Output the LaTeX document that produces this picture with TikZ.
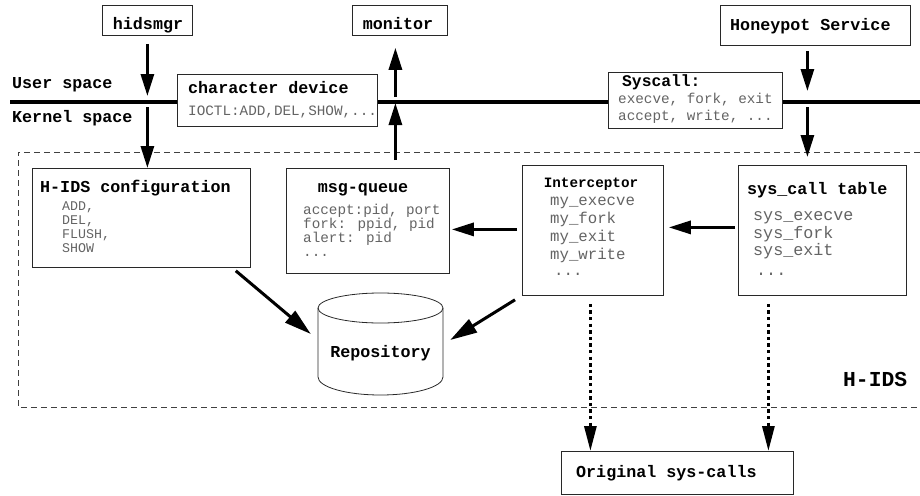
\documentclass[tikz,border=0pt]{standalone}
\usepackage{fontspec}
\usetikzlibrary{arrows.meta,calc}
\newfontfamily\lmono{Liberation Mono}
\definecolor{gtxt}{RGB}{100,100,100}
\definecolor{edge}{RGB}{40,40,40}

\tikzset{
  box/.style={draw=edge, line width=0.8pt, fill=white, inner sep=0pt, anchor=north west},
  ttl/.style={font=\lmono\bfseries\fontsize{16.7}{18}\selectfont, inner sep=0pt, anchor=base west},
  ttlc/.style={ttl, anchor=base},
  itm/.style={font=\lmono\fontsize{14.3}{16}\selectfont, text=gtxt, inner sep=0pt, anchor=base west},
  itmS/.style={itm, font=\lmono\fontsize{13.3}{15}\selectfont},
  itmM/.style={itm, font=\lmono\fontsize{15.7}{17}\selectfont},
  itmL/.style={itm, font=\lmono\fontsize{16.7}{18}\selectfont},
  arr/.style={line width=3pt, -{Triangle[length=22pt,width=13pt]}},
  diagarr/.style={line width=3pt, -{Triangle[length=27pt,width=15pt]}},
  dotarr/.style={line width=3pt, dash pattern=on 3.3pt off 3.3pt, -{Triangle[length=25pt,width=12pt]}},
  sepline/.style={line width=4pt},
  frame/.style={draw=black!75, line width=0.9pt, dash pattern=on 6pt off 4pt},
  cyl/.style={draw=edge, line width=0.8pt}
}

\begin{document}
\begin{tikzpicture}[x=1pt,y=-1pt]
\useasboundingbox (0,0) rectangle (920,495);

% dashed frame of the H-IDS module (open to the right)
\draw[frame] (920,152) -- (18,152) -- (18,407) -- (920,407);

% user/kernel boundary
\coordinate (sepL) at (10,102);
\coordinate (sepR) at (920,102);
\draw[sepline] (sepL) -- (sepR);
\node[ttl] (usr) at (12,88) {User space};
\node[ttl] (krn) at (12,122) {Kernel space};

% user-space processes
\node[box, minimum width=90pt, minimum height=30pt] (hidsmgr) at (102,5) {};
\node[ttlc] (hidsmgr-t) at (148,30) {hidsmgr};
\node[box, minimum width=95pt, minimum height=30pt] (monitor) at (352,5) {};
\node[ttlc] (monitor-t) at (398,30) {monitor};
\node[box, minimum width=190pt, minimum height=40pt] (honey) at (720,5) {};
\node[ttl] (honey-t) at (730,31) {Honeypot Service};

% interfaces on the boundary
\node[box, minimum width=200pt, minimum height=52pt] (chardev) at (177,74) {};
\node[ttl] (chardev-t) at (188,93) {character device};
\node[itm] (chardev-i) at (188,115) {IOCTL:ADD,DEL,SHOW,...};

\node[box, minimum width=174pt, minimum height=56pt] (syscall) at (608,72) {};
\node[ttl, font=\lmono\bfseries\fontsize{16.3}{18}\selectfont] (syscall-t) at (622,86) {Syscall:};
\node[itm] (syscall-i1) at (618,103) {execve, fork, exit};
\node[itm] (syscall-i2) at (618,120) {accept, write, ...};

% kernel module parts
\node[box, minimum width=218pt, minimum height=99pt] (cfg) at (32,168) {};
\node[ttl] (cfg-t) at (40,192) {H-IDS configuration};
\node[itmS] (cfg-1) at (62,210) {ADD,};
\node[itmS] (cfg-2) at (62,224) {DEL,};
\node[itmS] (cfg-3) at (62,238) {FLUSH,};
\node[itmS] (cfg-4) at (62,252) {SHOW};

\node[box, minimum width=163pt, minimum height=105pt] (msgq) at (286,168) {};
\node[ttlc] (msgq-t) at (363,192) {msg-queue};
\node[itm] (msgq-1) at (303,214) {accept:pid, port};
\node[itm] (msgq-2) at (303,228) {fork: ppid, pid};
\node[itm] (msgq-3) at (303,242) {alert: pid};
\node[itm] (msgq-4) at (303,256) {...};

\node[box, minimum width=141pt, minimum height=130pt] (icpt) at (522,165) {};
\node[ttlc, font=\lmono\bfseries\fontsize{14.3}{16}\selectfont] (icpt-t) at (591,187) {Interceptor};
\node[itmM] (icpt-1) at (550,205) {my\_execve};
\node[itmM] (icpt-2) at (550,223) {my\_fork};
\node[itmM] (icpt-3) at (550,241) {my\_exit};
\node[itmM] (icpt-4) at (550,259) {my\_write};
\node[itmM] (icpt-5) at (554,275) {...};

\node[box, minimum width=168pt, minimum height=130pt] (systab) at (738,165) {};
\node[ttl] (systab-t) at (747,194) {sys\_call table};
\node[itmL] (systab-1) at (753,220) {sys\_execve};
\node[itmL] (systab-2) at (753,238) {sys\_fork};
\node[itmL] (systab-3) at (753,255) {sys\_exit};
\node[itmL] (systab-4) at (756,275) {...};

% repository cylinder
\node[inner sep=0pt, minimum width=125pt, minimum height=102pt] (repo) at (380.5,344) {};
\draw[cyl] (318,308) -- (318,377) arc[start angle=180, end angle=360, x radius=62.5pt, y radius=18pt] -- (443,308);
\draw[cyl] (380.5,308) ellipse[x radius=62.5pt, y radius=15pt];
\node[ttlc] (repo-t) at (380.5,357) {Repository};

\node[ttl, font=\lmono\bfseries\fontsize{21.3}{24}\selectfont] (hids) at (843,386) {H-IDS};

\node[box, minimum width=232pt, minimum height=43pt] (orig) at (561,451) {};
\node[ttl] (orig-t) at (576,477) {Original sys-calls};

% hidsmgr -> configuration
\coordinate (a1) at ([yshift=-8pt]hidsmgr.south);
\draw[arr] (a1) -- ([yshift=6pt]a1 |- sepL);
\coordinate (a2) at ([yshift=-5pt]a1 |- sepL);
\draw[arr] (a2) -- (a2 |- cfg.north);

% msg-queue -> monitor
\coordinate (m1) at ([xshift=-4.5pt]monitor.south);
\coordinate (m2) at (m1 |- sepL);
\draw[arr] ([yshift=5pt]m2) -- ([yshift=-12pt]m1);
\coordinate (m3) at (m1 |- msgq.north);
\draw[arr] ([yshift=8pt]m3) -- ([yshift=-1pt]m2);

% honeypot -> sys_call table
\coordinate (h1) at ([shift={(-8pt,-5pt)}]honey.south);
\coordinate (h2) at (h1 |- sepL);
\draw[arr] (h1) -- ([yshift=11pt]h2);
\draw[arr] ([yshift=-5pt]h2) -- ([yshift=8pt]h2 |- systab.north);

% sys_call table -> interceptor -> msg-queue
\draw[arr, shorten <=3pt, shorten >=5pt] ([yshift=3pt]systab.west) -- ([yshift=3pt]icpt.east);
\coordinate (q1) at ([yshift=1pt]icpt.west);
\draw[arr, shorten <=5pt, shorten >=2pt] (q1) -- (q1 -| msgq.east);

% writes into the repository
\draw[diagarr] ([shift={(-15pt,-3pt)}]cfg.south east) -- ([shift={(-7pt,10pt)}]repo.west);
\draw[diagarr] ([shift={(-7pt,-4pt)}]icpt.south west) -- ([shift={(7pt,4pt)}]repo.east);

% calls passed on to the original handlers
\coordinate (d1) at ([shift={(-2.5pt,-8pt)}]icpt.south);
\draw[dotarr] (d1) -- (d1 |- orig.north);
\coordinate (d2) at ([shift={(-54pt,-8pt)}]systab.south);
\draw[dotarr] (d2) -- (d2 |- orig.north);
\end{tikzpicture}
\end{document}
